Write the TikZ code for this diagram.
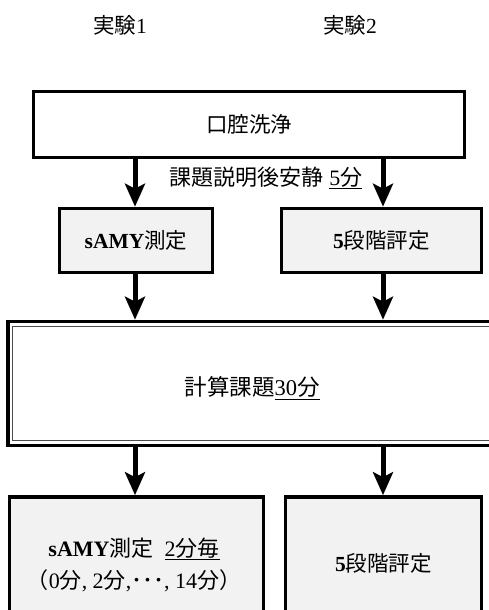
\documentclass[tikz,border=0pt]{standalone}
\usepackage{fontspec}
\setmainfont{Liberation Serif}
\newfontfamily\jp{Noto Sans CJK JP}
\usetikzlibrary{arrows.meta}
\definecolor{boxgray}{HTML}{F2F2F2}
\tikzset{
  plainbox/.style={draw=black, line width=3.6pt, fill=white, inner sep=0pt, align=center, font=\fontsize{21.5}{26}\selectfont},
  graybox/.style={plainbox, fill=boxgray},
  flowarrow/.style={line width=5pt, -{Stealth[length=23pt,width=20pt,inset=5pt]}},
  toplabel/.style={font=\fontsize{21.5}{26}\selectfont}
}
\begin{document}
\begin{tikzpicture}[x=1pt,y=-1pt]
\useasboundingbox (0,0) rectangle (489,610);
\begin{scope}
\clip (0,0) rectangle (489,610);
\node[toplabel] (e1) at (120,25) {{\jp 実験}1};
\node[toplabel] (e2) at (350,25) {{\jp 実験}2};

\node[plainbox, minimum width=431pt, minimum height=66pt] (wash) at (249,124.5) {{\jp 口腔洗浄}};

\node[graybox, minimum width=153pt, minimum height=64pt] (s1) at (136,240.5) {\textbf{sAMY}{\jp 測定}};
\node[graybox, minimum width=200pt, minimum height=64pt] (r1) at (381.5,240.5) {\textbf{5}{\jp 段階評定}};

\node[font=\fontsize{22}{26}\selectfont] (rest) at (266,178) {{\jp 課題説明後安静} \underline{5{\jp 分}}};

\node[plainbox, minimum width=496pt, minimum height=124pt] (calc) at (256,383.5) {};
\draw[line width=1pt, black!70] ([shift={(6.6,6.6)}]calc.north west) rectangle ([shift={(-6.6,-6.6)}]calc.south east);
\node[font=\fontsize{22.5}{27}\selectfont] (calctext) at (252,388) {{\jp 計算課題}\underline{30{\jp 分}}};

\node[graybox, minimum width=254pt, minimum height=132pt] (s2) at (136.5,563) {};
\node[font=\fontsize{22}{26}\selectfont, align=center] (s2text) at (134,564.5) {\textbf{sAMY}{\jp 測定}\ \ \underline{2{\jp 分毎}}\\[6pt]{\jp （}0{\jp 分}, 2{\jp 分},{\jp ･･･}, 14{\jp 分}{\jp ）}};
\node[graybox, minimum width=196pt, minimum height=132pt] (r2) at (383.5,563) {\textbf{5}{\jp 段階評定}};

\coordinate (lx) at (135,0);
\coordinate (rx) at (383,0);
\draw[flowarrow] (wash.south -| lx) -- (s1.north -| lx);
\draw[flowarrow] (wash.south -| rx) -- (r1.north -| rx);
\draw[flowarrow] (s1.south -| lx) -- (calc.north -| lx);
\draw[flowarrow] (r1.south -| rx) -- (calc.north -| rx);
\draw[flowarrow] (calc.south -| lx) -- (s2.north -| lx);
\draw[flowarrow] (calc.south -| rx) -- (r2.north -| rx);
\end{scope}
\end{tikzpicture}
\end{document}
